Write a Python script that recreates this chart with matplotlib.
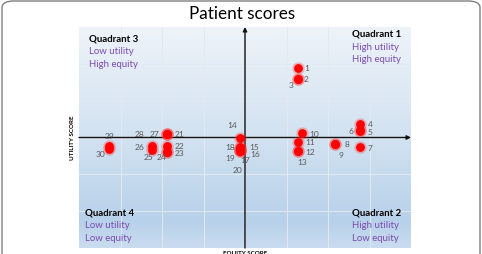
import numpy as np
import matplotlib
matplotlib.use("Agg")
import matplotlib.pyplot as plt
from matplotlib.colors import LinearSegmentedColormap
from matplotlib.patches import FancyBboxPatch

plt.rcParams["font.family"] = ["Lato", "DejaVu Sans"]

# patient scores (equity on x, utility on y)
patients = [str(i) for i in range(1, 31)]
equity = [1.28, 1.28, 1.28, 2.78, 2.78, 2.78, 2.78, 2.18, 2.18, 1.37,
          1.28, 1.28, 1.28, -0.12, -0.12, -0.12, -0.12, -0.12, -0.12, -0.12,
          -1.87, -1.87, -1.87, -1.87, -2.25, -2.25, -1.87, -1.87, -3.27, -3.27]
utility = [1.90, 1.60, 1.58, 0.38, 0.17, 0.20, -0.26, -0.17, -0.19, 0.11,
           -0.12, -0.37, -0.38, 0.00, -0.27, -0.33, -0.36, -0.29, -0.35, -0.37,
           0.10, -0.22, -0.40, -0.40, -0.33, -0.22, 0.10, 0.10, -0.24, -0.31]

# label offsets in points (style only)
LABEL_OFF = {
    "1": (6, 0), "2": (6, 0), "3": (-5, -4), "4": (7, 0), "5": (7, 0), "6": (-7, 0),
    "7": (7, 0), "8": (8, 0), "9": (4, -7), "10": (9, 0), "11": (9, 0), "12": (9, 0),
    "13": (3, -7), "14": (-6, 9), "15": (10, 1), "16": (11, -3), "17": (4, -6),
    "18": (-7, 1), "19": (-7, -5), "20": (-2, -13), "21": (9, 0), "22": (9, 0),
    "23": (9, 0), "24": (-4, -3), "25": (-2, -5), "26": (-9, -1), "27": (-9, 0),
    "28": (-20, 0), "29": (0, 8), "30": (-6, -3),
}

quadrants = [
    ("Quadrant 3", "Low utility", "High equity", 89, 39),
    ("Quadrant 1", "High utility", "High equity", 351.7, 34.3),
    ("Quadrant 4", "Low utility", "Low equity", 85, 212.7),
    ("Quadrant 2", "High utility", "Low equity", 351.7, 212.7),
]

W, H = 482, 255
fig = plt.figure(figsize=(W / 100, H / 100), dpi=100)
L, R, T, B = 79, 411, 28, 249
ax = fig.add_axes([L / W, 1 - B / H, (R - L) / W, (B - T) / H])
ax.set_xlim(-4, 4)
ax.set_ylim(-3, 3)

# background gradient
cmap = LinearSegmentedColormap.from_list(
    "bg", [(0, "#cadcef"), (0.12, "#b7d1ea"), (0.5, "#d2e2f1"), (1, "#eef3f9")])
grad = np.linspace(0, 1, 256).reshape(-1, 1)
ax.imshow(grad, extent=(-4, 4, -3, 3), origin="lower", aspect="auto",
          cmap=cmap, zorder=0)

for v in range(-3, 4):
    ax.axvline(v, color="#e2e9f1", lw=0.7, zorder=1)
for v in range(-2, 3):
    ax.axhline(v, color="#e2e9f1", lw=0.7, zorder=1)

for s in ax.spines.values():
    s.set_visible(False)
ax.set_xticks([])
ax.set_yticks([])

arrow = dict(arrowstyle="-|>", color="#111111", lw=1.0, mutation_scale=6,
             shrinkA=0, shrinkB=0)
ax.annotate("", xy=(0, 3), xytext=(0, -3), arrowprops=arrow, zorder=2)
ax.annotate("", xy=(4, 0), xytext=(-4, 0), arrowprops=arrow, zorder=2)

ax.scatter(equity, utility, s=80, color="#ff3030", alpha=0.3, lw=0, zorder=3)
ax.scatter(equity, utility, s=40, color="#ff0000", lw=0, zorder=4)

for p, xv, yv in zip(patients, equity, utility):
    dx, dy = LABEL_OFF[p]
    ax.annotate(p, (xv, yv), xytext=(dx, dy), textcoords="offset points",
                ha="center", va="center", fontsize=6, color="#595959", zorder=5)

for head, l1, l2, px, py in quadrants:
    for i, (txt, col, wt) in enumerate([(head, "#000000", "bold"),
                                        (l1, "#7a4bb0", "normal"),
                                        (l2, "#7a4bb0", "normal")]):
        fig.text(px / W, 1 - (py + i * 12.8) / H, txt, ha="left", va="center",
                 fontsize=6.9, color=col, fontweight=wt)

fig.text(241.7 / W, 1 - 14.3 / H, "Patient scores", ha="center", va="center",
         fontsize=12.3, color="#000000")
fig.text(72 / W, 1 - 138 / H, "UTILITY SCORE", rotation=90, ha="center",
         va="center", fontsize=4.5, fontweight="bold", color="#000000")
fig.text(245 / W, 1 - 251.5 / H, "EQUITY SCORE", ha="center", va="top",
         fontsize=4.5, fontweight="bold", color="#000000")

border = FancyBboxPatch((2 / W, -0.2), 478 / W, 1 - 2 / H + 0.2,
                        boxstyle="round,pad=0,rounding_size=0.025",
                        transform=fig.transFigure, fill=False,
                        edgecolor="#7f7f7f", lw=1.0)
fig.patches.append(border)

fig.savefig("out.png", dpi=100, facecolor="#ffffff")
